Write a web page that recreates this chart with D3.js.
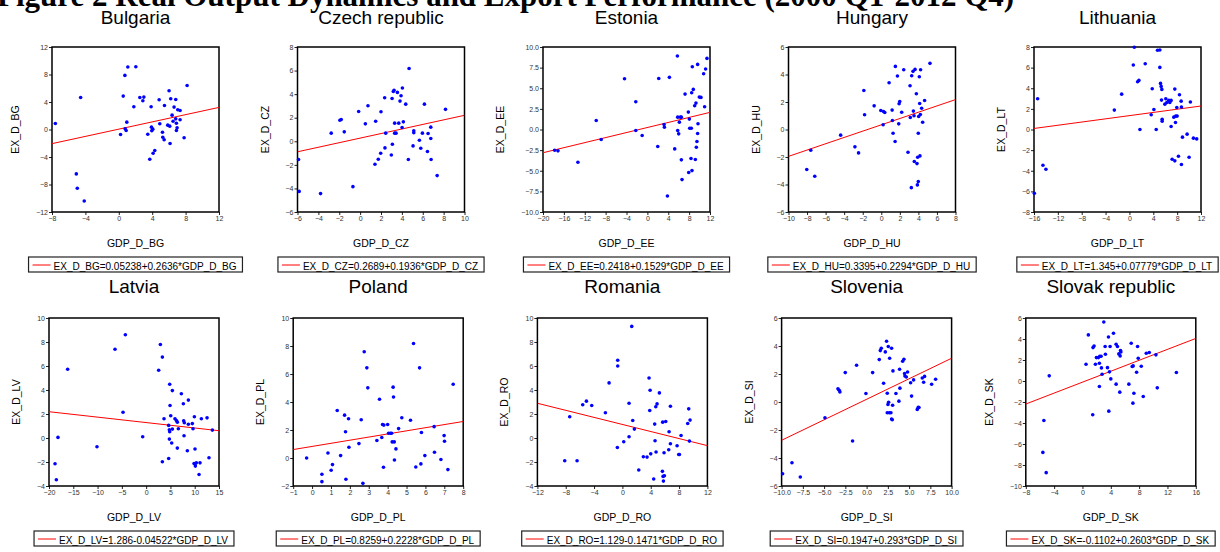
<!DOCTYPE html>
<html>
<head>
<meta charset="utf-8">
<script src="https://cdn.jsdelivr.net/npm/d3@7"></script>
<style>
  body { margin: 0; background: #fff; }
  svg { display: block; font-family: "Liberation Sans", Arial, sans-serif; }
</style>
</head>
<body>
<div id="chart"></div>
<script>
// ---- data ----
const figTitle = "Figure 2 Real Output Dynamics and Export Performance (2000 Q1-2012 Q4)";
const countries = ["Bulgaria", "Czech republic", "Estonia", "Hungary", "Lithuania",
                   "Latvia", "Poland", "Romania", "Slovenia", "Slovak republic"];
const codes = ["BG", "CZ", "EE", "HU", "LT", "LV", "PL", "RO", "SI", "SK"];
const intercepts = [0.05238, 0.2689, 0.2418, 0.3395, 1.345, 1.286, 0.8259, 1.129, 0.1947, -0.1102];
const slopes = [0.2636, 0.1936, 0.1529, 0.2294, 0.07779, -0.04522, 0.2228, -0.1471, 0.293, 0.2603];
const equations = [
  "EX_D_BG=0.05238+0.2636*GDP_D_BG", "EX_D_CZ=0.2689+0.1936*GDP_D_CZ",
  "EX_D_EE=0.2418+0.1529*GDP_D_EE", "EX_D_HU=0.3395+0.2294*GDP_D_HU",
  "EX_D_LT=1.345+0.07779*GDP_D_LT", "EX_D_LV=1.286-0.04522*GDP_D_LV",
  "EX_D_PL=0.8259+0.2228*GDP_D_PL", "EX_D_RO=1.129-0.1471*GDP_D_RO",
  "EX_D_SI=0.1947+0.293*GDP_D_SI", "EX_D_SK=-0.1102+0.2603*GDP_D_SK"
];
const xDomains = [[-8, 12], [-6, 10], [-20, 12], [-10, 8], [-16, 12],
                  [-20, 15], [-1, 8], [-12, 12], [-10, 10], [-8, 16]];
const xSteps = [4, 2, 4, 2, 4, 5, 1, 4, 2.5, 4];
const yDomains = [[-12, 12], [-6, 8], [-10, 10], [-6, 6], [-8, 8],
                  [-4, 10], [-2, 10], [-4, 10], [-6, 6], [-10, 6]];
const ySteps = [4, 2, 2.5, 2, 2, 2, 2, 2, 2, 2];

const pointsBG = [[-7.6,0.87],[-4.57,4.66],[-5.09,-6.46],[-4.97,-8.55],[-4.14,-10.4],[0.53,4.86],[0.73,7.87],
  [1.08,9.09],[2.04,9.13],[0.21,-0.73],[0.76,0.1],[0.88,-0.15],[0.96,1.07],[1.8,3.3],[2.52,4.66],[3.0,4.71],
  [2.88,4.18],[3.47,-0.68],[3.71,-4.32],[3.87,3.3],[3.91,0.34],[3.95,-0.19],[4.07,0.05],[4.11,-3.45],[4.31,-3.06],
  [4.83,4.32],[4.91,0.83],[5.23,-0.39],[5.27,-1.12],[5.43,-1.5],[5.47,3.5],[5.86,0.63],[6.02,5.64],[6.1,0.49],
  [6.14,-2.04],[6.22,4.47],[6.38,2.09],[6.5,1.21],[6.62,3.26],[6.82,4.37],[6.82,1.55],[6.9,-0.15],[6.9,0.92],
  [6.98,0.24],[7.06,2.87],[7.34,2.77],[7.34,1.41],[7.82,-1.21],[8.18,6.41]];
const pointsCZ = [[-5.9,-1.55],[-5.84,-4.25],[-3.79,-4.44],[-2.77,0.69],[-1.94,1.79],[-1.81,1.85],[-1.52,0.8],
  [-0.69,-3.85],[-0.14,2.53],[0.5,1.48],[0.75,3.01],[1.42,-1.95],[1.49,1.7],[1.74,-1.52],[2.0,2.5],[1.97,-1.01],
  [2.35,3.69],[2.38,-0.56],[2.45,0.69],[3.06,3.63],[3.09,-0.25],[2.99,-1.16],[3.18,4.23],[3.25,4.32],[3.31,1.54],
  [3.31,0.69],[3.44,0.69],[3.57,4.15],[3.7,1.54],[3.82,3.41],[3.92,3.86],[4.02,1.17],[4.05,4.52],[4.14,1.65],
  [4.37,3.15],[4.62,-1.55],[4.69,6.18],[5.07,-0.39],[5.14,0.89],[5.14,0.72],[5.68,0.09],[5.81,-0.59],[5.97,0.69],
  [6.16,3.15],[6.45,-0.87],[6.51,0.66],[6.77,1.2],[6.77,0.24],[6.8,-1.55],[7.38,-2.91],[8.18,2.71]];
const pointsEE = [[-17.77,-2.51],[-17.13,-2.59],[-13.31,-3.97],[-9.8,1.09],[-8.85,-1.21],[-4.38,6.15],[-2.22,3.36],
  [-2.22,-0.12],[-1.0,-0.73],[1.99,-2.06],[2.18,6.19],[3.2,0.61],[3.26,0.28],[3.84,-8.06],[4.22,6.32],[5.24,-2.35],
  [5.75,8.91],[5.81,1.5],[5.81,-0.12],[6.0,-0.53],[6.13,0.89],[6.32,1.5],[6.51,-3.68],[6.51,1.5],[6.64,-6.07],
  [7.22,4.29],[7.85,2.11],[7.92,-5.22],[8.04,1.26],[8.11,0.16],[8.36,-3.52],[8.42,0.16],[8.49,4.45],[8.55,-4.98],
  [8.61,7.61],[8.8,4.86],[9.06,2.87],[9.19,-3.64],[9.31,3.2],[9.38,-2.15],[9.5,-1.46],[9.63,7.89],[9.63,-0.49],
  [9.7,0.69],[9.95,3.93],[10.27,3.89],[10.78,6.76],[10.97,2.75],[11.16,7.33],[11.42,8.62]];
const pointsHU = [[-8.03,-2.91],[-7.6,-1.51],[-7.17,-3.4],[-4.38,-0.41],[-2.84,-1.26],[-2.45,-1.7],[-1.88,2.84],
  [-1.8,1.07],[-0.77,1.72],[-0.05,1.38],[0.2,0.34],[0.24,1.31],[0.38,1.24],[0.84,3.4],[1.17,1.41],[1.2,0.66],
  [1.27,-0.27],[1.49,-0.87],[1.52,4.59],[1.74,3.89],[1.88,0.41],[1.92,1.87],[1.99,2.04],[2.2,1.26],[2.42,4.35],
  [2.88,-1.65],[3.1,3.18],[3.13,0.87],[3.24,-4.23],[3.28,3.91],[3.42,4.23],[3.46,1.34],[3.53,1.0],[3.56,-2.33],
  [3.64,4.37],[3.78,2.6],[3.85,-2.48],[3.89,-4.03],[3.92,-2.02],[3.99,-0.27],[3.99,-3.79],[4.03,0.95],[4.1,3.84],
  [4.14,1.89],[4.17,-1.92],[4.21,1.09],[4.24,4.35],[4.35,1.55],[4.46,0.53],[4.67,2.11],[5.25,4.81]];
const pointsLT = [[-15.94,-6.19],[-15.39,2.98],[-14.5,-3.47],[-14.0,-3.85],[-2.53,1.88],[-1.3,3.43],[0.65,6.25],
  [0.82,7.97],[1.37,4.63],[1.59,4.76],[1.76,0.0],[2.65,6.38],[3.65,1.43],[3.82,3.95],[4.1,1.94],[4.49,0.0],
  [4.71,7.68],[5.1,7.71],[5.1,6.02],[5.21,4.47],[5.32,4.18],[5.43,3.89],[5.38,2.85],[5.49,1.0],[5.49,0.81],
  [5.94,2.46],[6.1,2.98],[6.27,2.62],[6.6,2.82],[6.77,2.62],[6.99,2.82],[6.99,0.29],[7.16,-2.88],[7.44,1.2],
  [7.61,3.92],[7.61,-3.04],[7.72,0.68],[7.77,1.3],[7.94,2.14],[8.0,1.3],[8.22,-2.59],[8.39,3.37],[8.67,2.75],
  [8.72,2.17],[8.72,-3.4],[8.89,-0.74],[9.67,-0.45],[10.0,-2.69],[10.22,2.66],[10.73,-0.84],[11.28,-0.91]];
const pointsLV = [[-18.76,-2.15],[-18.49,-3.48],[-18.15,0.05],[-16.16,5.73],[-10.12,-0.73],[-6.41,7.39],[-4.76,2.15],
  [-4.28,8.61],[-0.71,0.1],[2.58,5.65],[2.93,7.79],[3.34,6.74],[3.34,-1.98],[3.68,1.6],[4.64,-1.71],[4.64,1.05],
  [4.78,-0.09],[4.78,0.69],[4.85,0.52],[4.85,4.48],[4.92,2.71],[5.06,1.85],[5.26,-0.42],[5.4,0.74],[5.4,3.95],
  [5.94,1.6],[6.22,1.46],[6.42,-0.84],[6.42,1.32],[6.63,0.77],[7.25,3.69],[7.66,2.85],[7.73,1.43],[7.8,0.19],
  [7.86,1.27],[8.48,-1.06],[8.69,3.16],[8.69,1.14],[9.51,1.2],[9.65,0.77],[9.93,1.77],[10.06,-0.92],[9.86,-2.12],
  [10.13,-2.34],[10.06,-2.15],[10.34,-2.07],[11.09,-2.07],[10.89,-3.04],[11.37,1.6],[12.54,1.68],[12.94,-1.65],
  [13.63,0.66]];
const pointsPL = [[-0.29,0.0],[0.52,-1.16],[0.52,-1.69],[0.84,0.36],[1.01,-0.88],[1.08,-0.47],[1.33,3.39],[1.51,0.17],
  [1.72,3.06],[1.77,1.87],[1.79,-1.52],[1.93,2.8],[1.95,0.77],[2.48,1.03],[2.6,2.73],[2.69,-1.81],[2.76,7.59],
  [2.9,6.44],[2.95,5.01],[3.43,1.25],[3.57,4.2],[3.69,1.46],[3.73,2.39],[3.8,2.35],[3.78,-0.66],[4.0,2.39],
  [4.05,1.77],[4.15,1.77],[4.21,1.77],[4.24,1.15],[4.29,5.06],[4.31,4.36],[4.35,1.15],[4.36,-0.14],[4.44,0.65],
  [4.58,2.1],[4.75,2.87],[5.21,2.7],[5.37,8.18],[5.49,-0.64],[5.69,6.44],[5.76,-0.42],[5.79,1.82],[5.97,0.17],
  [6.46,2.24],[6.48,0.41],[6.82,-0.11],[6.99,1.6],[7.01,1.2],[7.19,-0.83],[7.47,5.27]];
const pointsRO = [[-8.14,-1.9],[-7.44,1.77],[-6.4,-1.9],[-5.6,2.77],[-5.08,3.07],[-4.33,2.71],[-2.4,2.1],[-1.88,4.59],
  [-0.71,-0.79],[-0.66,6.0],[-0.66,6.48],[0.94,2.89],[0.94,0.1],[0.19,-0.31],[1.32,9.3],[1.46,1.46],[1.69,0.74],
  [2.96,-1.56],[3.48,-1.59],[2.31,-2.67],[3.76,5.0],[3.86,2.29],[3.91,3.98],[4.0,-1.32],[4.42,-3.42],[4.56,1.16],
  [4.61,-0.23],[4.71,2.6],[4.75,-1.17],[4.89,2.84],[5.22,3.76],[5.65,-2.78],[5.69,1.32],[5.74,-3.2],[5.88,-1.23],
  [5.79,-3.59],[5.93,-3.15],[6.12,1.38],[6.54,-0.98],[6.59,0.52],[6.78,2.65],[6.78,-0.48],[7.72,-0.65],[7.95,-1.37],
  [8.05,-1.37],[8.28,0.21],[9.22,1.21],[9.36,2.43],[9.46,-0.26],[9.55,1.49]];
const pointsSI = [[-9.88,-5.12],[-8.78,-4.34],[-7.8,-5.36],[-4.9,-1.13],[-3.37,0.94],[-3.22,0.84],[-3.14,0.72],
  [-2.51,2.1],[-1.65,-2.79],[-1.18,2.62],[-0.08,0.61],[0.71,2.1],[1.49,3.03],[1.61,3.67],[1.73,3.84],[2.0,1.34],
  [2.2,3.58],[2.35,4.34],[2.43,0.63],[2.51,-0.18],[2.55,3.96],[2.59,-0.02],[2.43,-0.77],[2.71,3.13],[2.67,-0.77],
  [2.86,-0.77],[2.94,3.84],[2.94,-1.22],[3.02,-1.27],[3.06,-0.23],[3.1,2.22],[3.45,0.61],[3.8,0.06],[3.88,2.34],
  [3.92,0.99],[4.24,2.91],[4.39,3.05],[4.47,2.03],[4.51,1.86],[4.67,1.79],[4.82,2.14],[5.18,1.37],[5.29,0.42],
  [5.53,1.58],[5.96,-0.53],[6.08,-0.37],[6.16,-0.39],[6.55,1.71],[6.71,1.41],[6.82,1.83],[7.65,1.27],[8.12,1.63]];
const pointsSK = [[-5.59,-6.8],[-5.45,-3.76],[-5.12,-8.73],[-4.69,0.49],[0.5,1.6],[0.83,4.39],[1.45,-3.22],[1.49,3.18],
  [1.64,3.34],[1.83,1.6],[1.97,2.23],[2.25,2.23],[2.39,-0.52],[2.44,2.36],[2.39,1.69],[2.63,2.36],[2.68,1.25],
  [2.77,0.65],[3.01,5.62],[3.2,3.28],[3.24,2.55],[3.53,1.27],[3.67,4.19],[3.72,-2.87],[3.81,0.87],[3.9,3.28],
  [4.0,0.2],[4.38,4.55],[4.75,3.5],[4.75,-0.3],[4.94,3.28],[5.13,2.58],[5.27,-1.06],[5.32,2.39],[5.37,2.9],
  [5.42,2.77],[6.55,-0.3],[6.88,3.59],[7.02,1.38],[7.16,1.44],[7.26,-1.16],[7.12,-2.11],[7.64,0.84],[7.78,3.28],
  [7.87,2.17],[8.3,1.41],[8.58,-1.47],[9.01,2.64],[9.43,2.71],[10.37,2.49],[10.56,-0.65],[13.26,0.81]];
const allPoints = [pointsBG, pointsCZ, pointsEE, pointsHU, pointsLT,
                   pointsLV, pointsPL, pointsRO, pointsSI, pointsSK];

// ---- layout ----
const W = 1220, H = 552;
const rows = [
  { left: 52, gap: 245.5, top: 47, w: 167, h: 165, titleY: 24 },
  { left: 49, gap: 244.2, top: 318, w: 170, h: 168, titleY: 293 }
];

const svg = d3.select("#chart").append("svg")
  .attr("width", W).attr("height", H);

// figure heading, cut off at the top edge as in the scanned page
svg.append("text")
  .attr("x", -3).attr("y", 6)
  .style("font-family", "'Liberation Serif', 'Times New Roman', serif")
  .style("font-weight", "bold")
  .style("font-size", "31px")
  .text(figTitle);

countries.forEach((name, i) => {
  const row = rows[Math.floor(i / 5)];
  const col = i % 5;
  const x0 = row.left + col * row.gap, y0 = row.top;
  const code = codes[i];

  const x = d3.scaleLinear().domain(xDomains[i]).range([0, row.w]);
  const y = d3.scaleLinear().domain(yDomains[i]).range([row.h, 0]);
  const xt = d3.range(xDomains[i][0], xDomains[i][1] + 1e-9, xSteps[i]);
  const yt = d3.range(yDomains[i][0], yDomains[i][1] + 1e-9, ySteps[i]);
  const xf = Number.isInteger(xSteps[i]) ? d3.format("d") : d3.format(".1f");
  const yf = Number.isInteger(ySteps[i]) ? d3.format("d") : d3.format(".1f");

  const g = svg.append("g").attr("transform", `translate(${x0},${y0})`);

  g.append("text")
    .attr("x", row.w / 2).attr("y", row.titleY - y0)
    .attr("text-anchor", "middle")
    .style("font-size", "19px")
    .text(name);

  g.append("clipPath").attr("id", "clip" + i)
    .append("rect").attr("width", row.w).attr("height", row.h);

  const yAxis = g.append("g")
    .call(d3.axisLeft(y).tickValues(yt).tickFormat(yf).tickSize(3).tickPadding(1));
  const xAxis = g.append("g").attr("transform", `translate(0,${row.h})`)
    .call(d3.axisBottom(x).tickValues(xt).tickFormat(xf).tickSize(3).tickPadding(1));
  [xAxis, yAxis].forEach(a => {
    a.select(".domain").remove();
    a.selectAll("line").attr("stroke", "#222");
    a.selectAll("text").attr("fill", "#333").style("font-size", "7px")
      .style("font-family", "'Liberation Sans', Arial, sans-serif");
  });

  let maxW = 0;
  yAxis.selectAll("text").each(function () { maxW = Math.max(maxW, this.getComputedTextLength()); });

  g.append("rect")
    .attr("width", row.w).attr("height", row.h)
    .attr("fill", "none").attr("stroke", "#000").attr("stroke-width", 1.5);

  g.append("line")
    .attr("clip-path", `url(#clip${i})`)
    .attr("x1", x(xDomains[i][0])).attr("y1", y(intercepts[i] + slopes[i] * xDomains[i][0]))
    .attr("x2", x(xDomains[i][1])).attr("y2", y(intercepts[i] + slopes[i] * xDomains[i][1]))
    .attr("stroke", "#ff0000").attr("stroke-width", 1);

  g.append("g").selectAll("circle")
    .data(allPoints[i])
    .join("circle")
    .attr("cx", d => x(d[0])).attr("cy", d => y(d[1]))
    .attr("r", 1.8).attr("fill", "#0000ff");

  g.append("text")
    .attr("x", row.w / 2).attr("y", row.h + 35)
    .attr("text-anchor", "middle")
    .style("font-size", "10.5px")
    .text("GDP_D_" + code);

  g.append("text")
    .attr("transform", `translate(${-maxW - 21},${row.h / 2}) rotate(-90)`)
    .attr("text-anchor", "middle")
    .style("font-size", "10.5px")
    .text("EX_D_" + code);

  // legend box
  const leg = g.append("g").attr("transform", `translate(0,${row.h + 45})`);
  const lt = leg.append("text").attr("y", 12.5).style("font-size", "10px").text(equations[i]);
  const tw = lt.node().getComputedTextLength();
  const bw = 4 + 18 + 3 + tw + 6;
  const bx = row.w / 2 - bw / 2;
  lt.attr("x", bx + 25);
  leg.insert("rect", "text")
    .attr("x", bx).attr("y", 0).attr("width", bw).attr("height", 15)
    .attr("fill", "#fff").attr("stroke", "#222").attr("stroke-width", 1.2);
  leg.append("line")
    .attr("x1", bx + 4).attr("x2", bx + 22).attr("y1", 8).attr("y2", 8)
    .attr("stroke", "#ff0000").attr("stroke-width", 1);
});
</script>
</body>
</html>
